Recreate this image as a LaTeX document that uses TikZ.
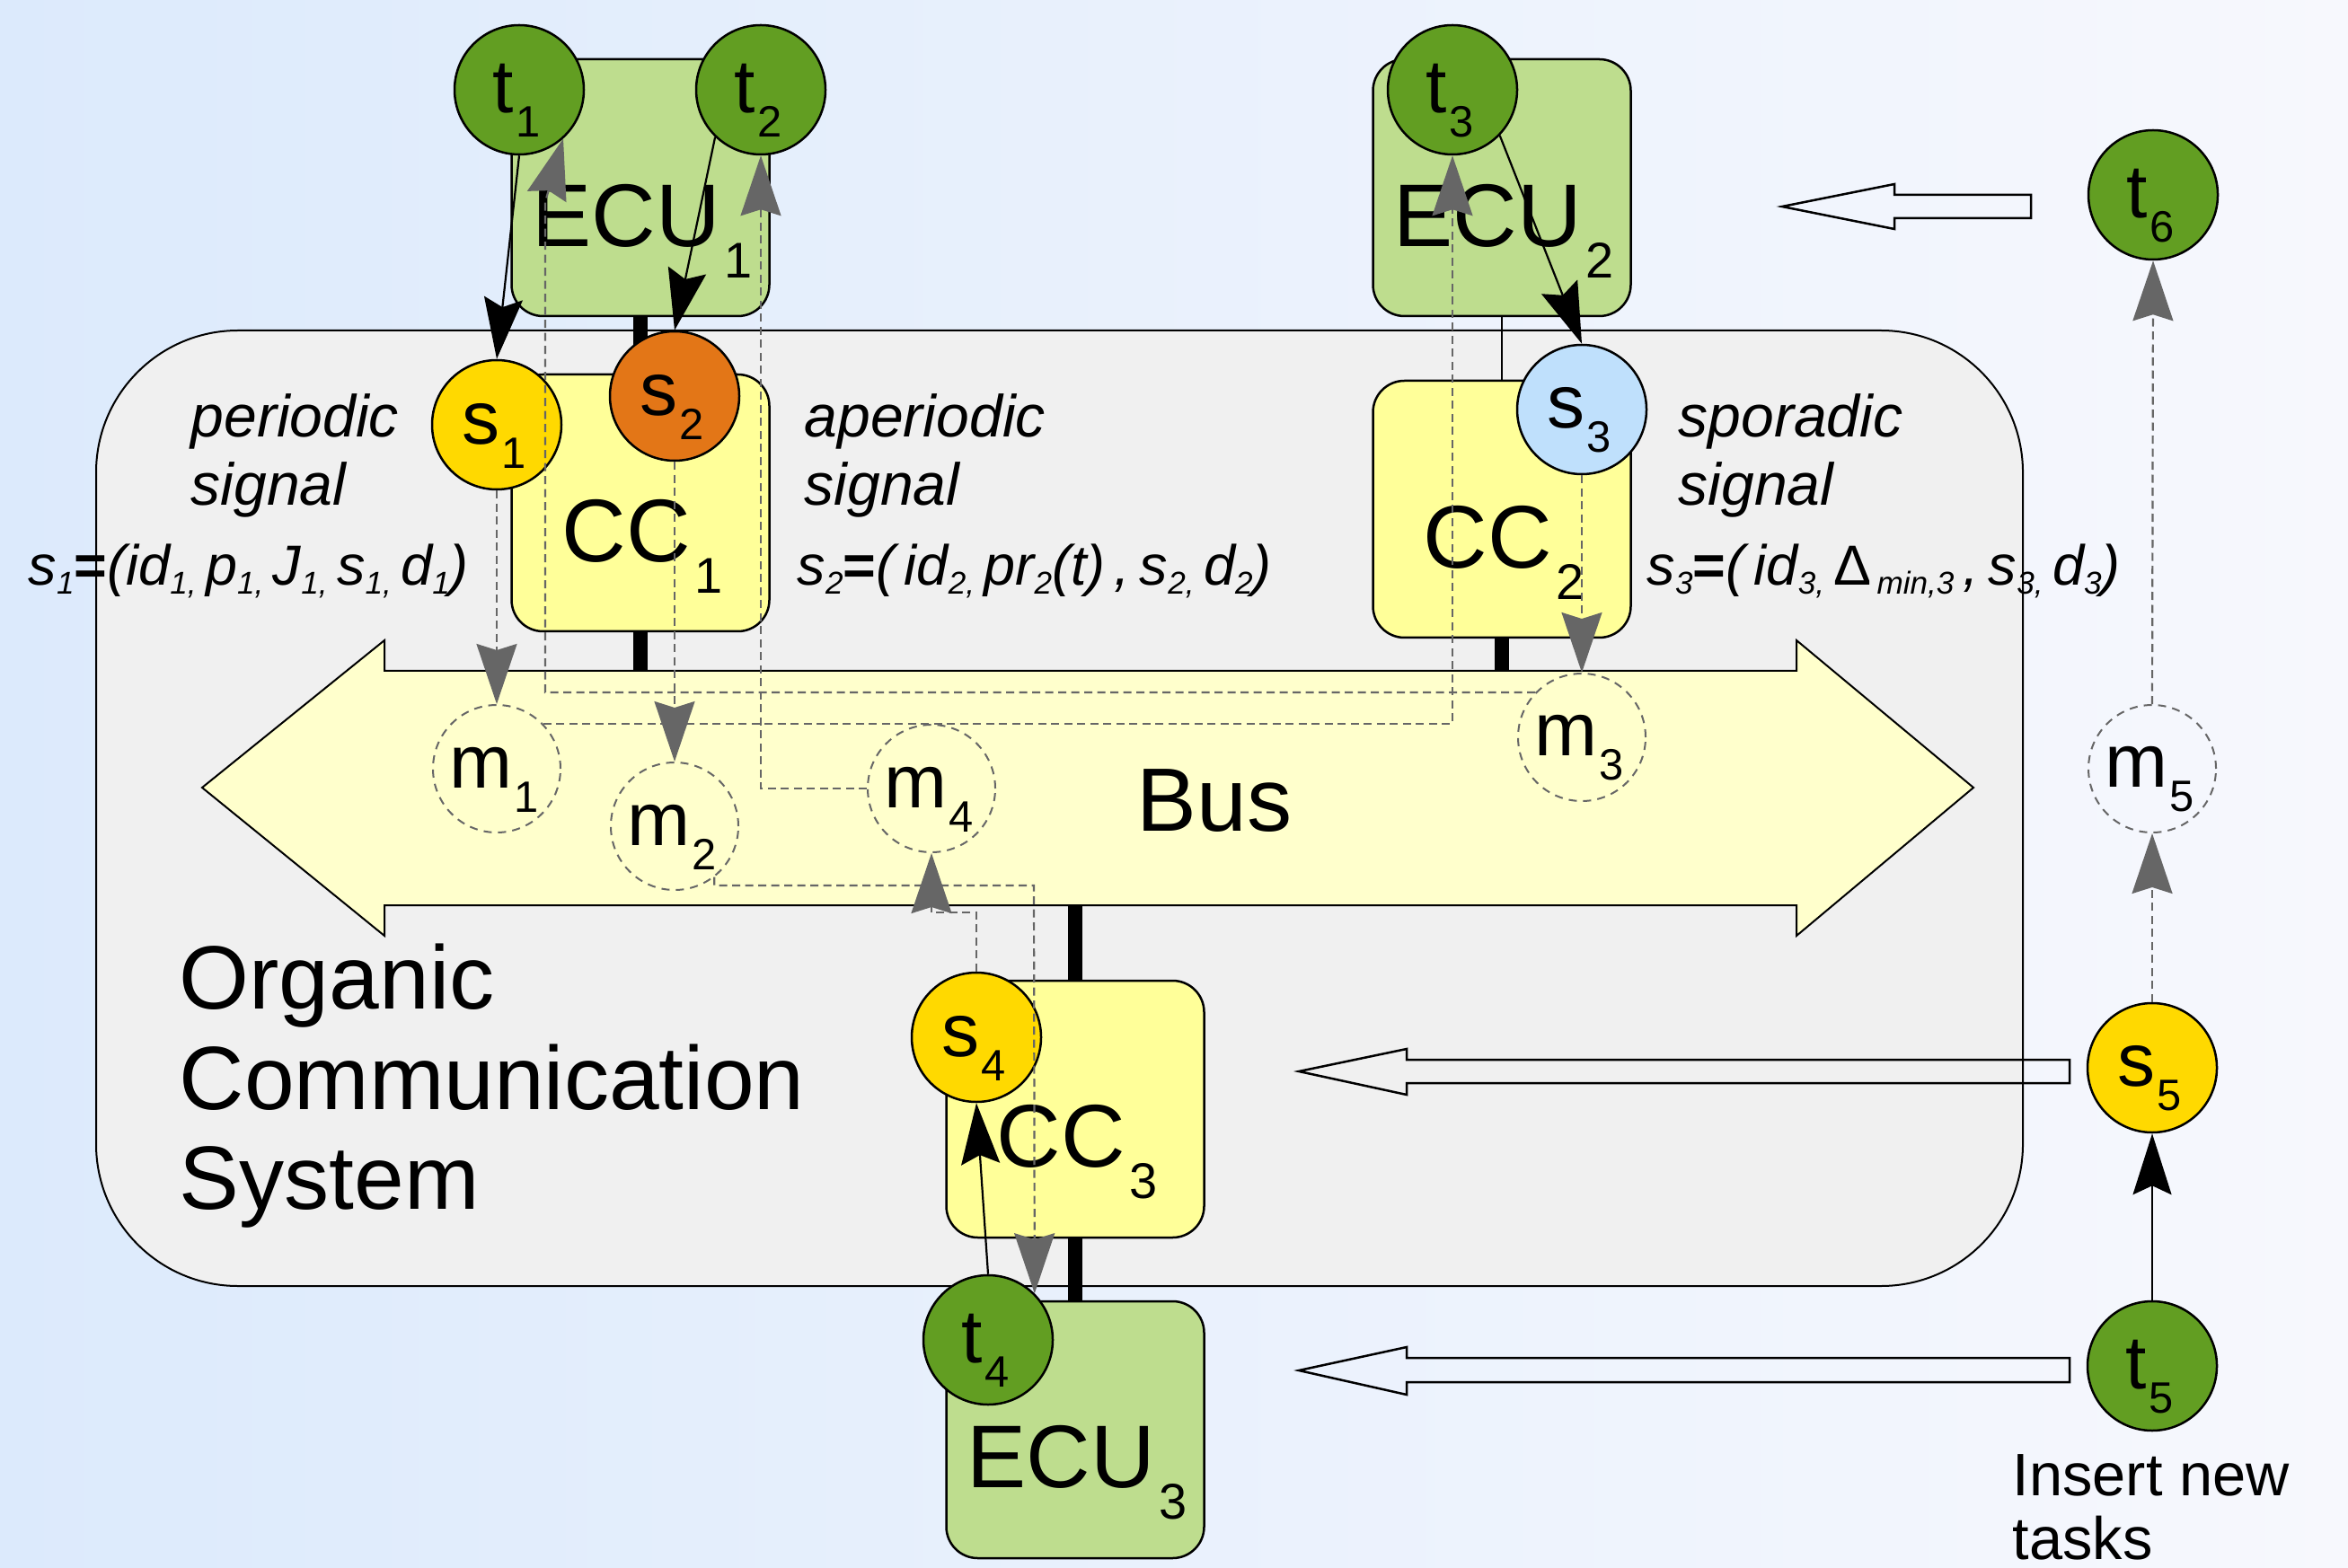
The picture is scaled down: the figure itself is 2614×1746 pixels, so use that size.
\documentclass[tikz,border=0pt]{standalone}
\usepackage{fontspec}
\setmainfont{Liberation Sans}
\usetikzlibrary{arrows.meta}
\pgfdeclarelayer{bg}
\pgfsetlayers{bg,main}
\definecolor{tgreen}{RGB}{98,158,34}
\definecolor{ecugreen}{RGB}{190,221,142}
\definecolor{ccyellow}{RGB}{255,255,153}
\definecolor{busyellow}{RGB}{255,255,204}
\definecolor{sgold}{RGB}{255,217,0}
\definecolor{sorange}{RGB}{227,118,23}
\definecolor{sblue}{RGB}{191,224,252}
\definecolor{orggray}{RGB}{240,240,240}
\definecolor{agray}{RGB}{102,102,102}
\definecolor{bgleft}{RGB}{220,234,252}
\definecolor{bgright}{RGB}{247,248,253}
\newcommand\lbl[2]{\fontsize{23.9pt}{26pt}\selectfont #1\kern0.8pt\raisebox{-7.7pt}{\fontsize{13.9pt}{15pt}\selectfont #2}}
\newcommand\blbl[2]{\fontsize{28.2pt}{30pt}\selectfont #1\kern1.2pt\raisebox{-10pt}{\fontsize{15.9pt}{17pt}\selectfont #2}}
\newcommand\fsub[1]{\raisebox{-2.8pt}{\fontsize{10pt}{11pt}\selectfont #1}}
\begin{document}
\begin{tikzpicture}[x=0.1mm,y=-0.1mm,
  box/.style={draw=black,line width=0.25mm,rounded corners=3.5mm,minimum width=28.7mm,minimum height=28.6mm,inner sep=0pt},
  ecu/.style={box,fill=ecugreen},
  ccbox/.style={box,fill=ccyellow},
  circ/.style={circle,draw=black,line width=0.25mm,minimum size=14.4mm,inner sep=0pt},
  task/.style={circ,fill=tgreen},
  sig/.style={circ,fill=#1},
  msg/.style={circle,draw=agray,line width=0.2mm,dash pattern=on 0.9mm off 0.7mm,minimum size=14.2mm,inner sep=0pt},
  lab/.style={inner sep=0pt},
  txt/.style={inner sep=0pt,anchor=base west},
  itxt/.style={txt,font=\fontsize{18.8pt}{20pt}\selectfont\itshape},
  ftxt/.style={txt,font=\fontsize{17.9pt}{20pt}\selectfont\itshape},
  conn/.style={draw=black,line width=0.22mm,-{Stealth[length=6.8mm,width=4.3mm,inset=1mm]}},
  gconn/.style={draw=agray,line width=0.22mm,dash pattern=on 0.9mm off 0.55mm,-{Stealth[length=6.7mm,width=4.5mm,inset=0.7mm]}},
  bar/.style={draw=black,line width=1.6mm},
  thinbar/.style={draw=black,line width=0.2mm},
  hollow/.style={draw=black,line width=0.25mm,line join=miter},
]
\useasboundingbox (0,0) rectangle (2614,1746);
\begin{pgfonlayer}{bg}
\shade[left color=bgleft,right color=bgright] (0,0) rectangle (2614,1746);
\draw[fill=orggray,line width=0.2mm,rounded corners=15.8mm] (107,368) rectangle (2252,1432);
\end{pgfonlayer}

% boxes
\node[ecu] (ecu1) at (713,209) {};
\node[ccbox] (cc1) at (713,560) {};
\node[ecu] (ecu2) at (1672,209) {};
\node[ccbox] (cc2) at (1672,567) {};
\node[ccbox] (cc3) at (1197,1235) {};
\node[ecu] (ecu3) at (1197,1592) {};

% bus
\draw[fill=busyellow,line width=0.2mm,line join=miter] (225,877) -- (428,713) -- (428,747) -- (2000,747) -- (2000,713) -- (2197,877) -- (2000,1042) -- (2000,1008) -- (428,1008) -- (428,1042) -- cycle;
\coordinate (bus1) at (713,747);
\coordinate (bus2) at (1672,747);
\coordinate (bus3) at (1197,1008);

\begin{pgfonlayer}{bg}
\draw[bar] (ecu1.south) -- (cc1.north);
\draw[bar] (cc1.south) -- (bus1);
\draw[thinbar] (ecu2.south) -- (cc2.north);
\draw[bar] (cc2.south) -- (bus2);
\draw[bar] (bus3) -- (cc3.north);
\draw[bar] (cc3.south) -- (ecu3.north);
\end{pgfonlayer}

% box labels
\node[lab] (ecu1l) at (715,257) {\blbl{ECU}{1}};
\node[lab] (cc1l) at (715,608) {\blbl{CC}{1}};
\node[lab] (ecu2l) at (1674,257) {\blbl{ECU}{2}};
\node[lab] (cc2l) at (1674,615) {\blbl{CC}{2}};
\node[lab] (cc3l) at (1199,1283) {\blbl{CC}{3}};
\node[lab] (ecu3l) at (1199,1640) {\blbl{ECU}{3}};

% messages
\node[msg] (m1) at (553,856) {};
\node[msg] (m2) at (751,920) {};
\node[msg] (m3) at (1761,821) {};
\node[msg] (m4) at (1037,878) {};
\node[msg] (m5) at (2396,856) {};

% tasks and signals
\node[task] (t1) at (578,100) {};
\node[task] (t2) at (847,100) {};
\node[task] (t3) at (1617,100) {};
\node[task] (t4) at (1100,1492) {};
\node[task] (t5) at (2396,1521) {};
\node[task] (t6) at (2397,217) {};
\node[sig=sgold] (s1) at (553,473) {};
\node[sig=sorange] (s2) at (751,441) {};
\node[sig=sblue] (s3) at (1761,456) {};
\node[sig=sgold] (s4) at (1087,1155) {};
\node[sig=sgold] (s5) at (2396,1189) {};

% circle labels
\node[lab] (t1l) at (575,112) {\lbl{t}{1}};
\node[lab] (t2l) at (844,112) {\lbl{t}{2}};
\node[lab] (t3l) at (1614,112) {\lbl{t}{3}};
\node[lab] (t4l) at (1097,1504) {\lbl{t}{4}};
\node[lab] (t5l) at (2393,1533) {\lbl{t}{5}};
\node[lab] (t6l) at (2394,229) {\lbl{t}{6}};
\node[lab] (s1l) at (550,485) {\lbl{s}{1}};
\node[lab] (s2l) at (748,453) {\lbl{s}{2}};
\node[lab] (s3l) at (1758,468) {\lbl{s}{3}};
\node[lab] (s4l) at (1084,1167) {\lbl{s}{4}};
\node[lab] (s5l) at (2393,1201) {\lbl{s}{5}};
\node[lab] (m1l) at (550,868) {\lbl{m}{1}};
\node[lab] (m2l) at (748,932) {\lbl{m}{2}};
\node[lab] (m3l) at (1758,833) {\lbl{m}{3}};
\node[lab] (m4l) at (1034,890) {\lbl{m}{4}};
\node[lab] (m5l) at (2393,868) {\lbl{m}{5}};

% hollow arrows
\draw[hollow] (1984,230) -- (2109,205) -- (2109,217) -- (2261,217) -- (2261,243) -- (2109,243) -- (2109,255) -- cycle;
\draw[hollow] (1446,1193) -- (1566,1168) -- (1566,1180) -- (2304,1180) -- (2304,1206) -- (1566,1206) -- (1566,1219) -- cycle;
\draw[hollow] (1446,1526) -- (1566,1500) -- (1566,1512) -- (2304,1512) -- (2304,1539) -- (1566,1539) -- (1566,1553) -- cycle;

% black connectors
\draw[conn] (t1.south) -- (s1.north);
\draw[conn] (t2.-134) -- (s2.north);
\draw[conn] (t3.-44) -- (s3.north);
\draw[conn] (t4.north) -- (s4.south);
\draw[conn] (t5.north) -- (s5.south);

% gray connectors
\draw[gconn] (s1.south) -- (m1.north);
\draw[gconn] (s2.south) -- (m2.north);
\draw[gconn] (s3.south) -- (m3.north);
\coordinate (c4) at (1037,1016);
\draw[gconn] (s4.north) |- (c4) -- (m4.south);
\coordinate (c5) at (1151,986);
\draw[gconn] (m2.-52) |- (c5) -- (t4.45);
\draw[gconn] (m1.44) -| (t3.south);
\coordinate (c7) at (607,225);
\draw[gconn] (m3.136) -| (c7) -- (t1.-48);
\draw[gconn] (m4.west) -| (t2.south);
\draw[gconn] (m5.north) -- (t6.south);
\draw[gconn] (s5.north) -- (m5.south);

% texts
\node[itxt] (p1) at (212,487) {periodic};
\node[itxt] (p2) at (212,563) {signal};
\node[itxt] (a1) at (895,487) {aperiodic};
\node[itxt] (a2) at (895,563) {signal};
\node[itxt] (sp1) at (1868,487) {sporadic};
\node[itxt] (sp2) at (1868,563) {signal};
\node[ftxt] (f1) at (31,652) {s\fsub{1}{\upshape\bfseries =}(id\fsub{1,}\,p\fsub{1,}\,J\fsub{1,}\,s\fsub{1,}\,d\fsub{1})};
\node[ftxt] (f2) at (887,652) {s\fsub{2}{\upshape\bfseries =}(\,id\fsub{2,}\,pr\fsub{2}(t)\,,\,s\fsub{2,}\,d\fsub{2})};
\node[ftxt] (f3) at (1833,652) {s\fsub{3}{\upshape\bfseries =}(\,id\fsub{3,}\,{\upshape Δ}\fsub{\,min,3}\,,\,s\fsub{3,}\,d\fsub{3})};
\node[txt,font=\fontsize{28.5pt}{30pt}\selectfont] (bus) at (1265,925) {Bus};
\node[txt,font=\fontsize{28.5pt}{30pt}\selectfont] (org1) at (199,1123) {Organic};
\node[txt,font=\fontsize{28.5pt}{30pt}\selectfont] (org2) at (199,1235) {Communication};
\node[txt,font=\fontsize{28.5pt}{30pt}\selectfont] (org3) at (199,1346) {System};
\node[txt,font=\fontsize{19pt}{21pt}\selectfont] (ins1) at (2240,1665) {Insert new};
\node[txt,font=\fontsize{19pt}{21pt}\selectfont] (ins2) at (2240,1736) {tasks};
\end{tikzpicture}
\end{document}
